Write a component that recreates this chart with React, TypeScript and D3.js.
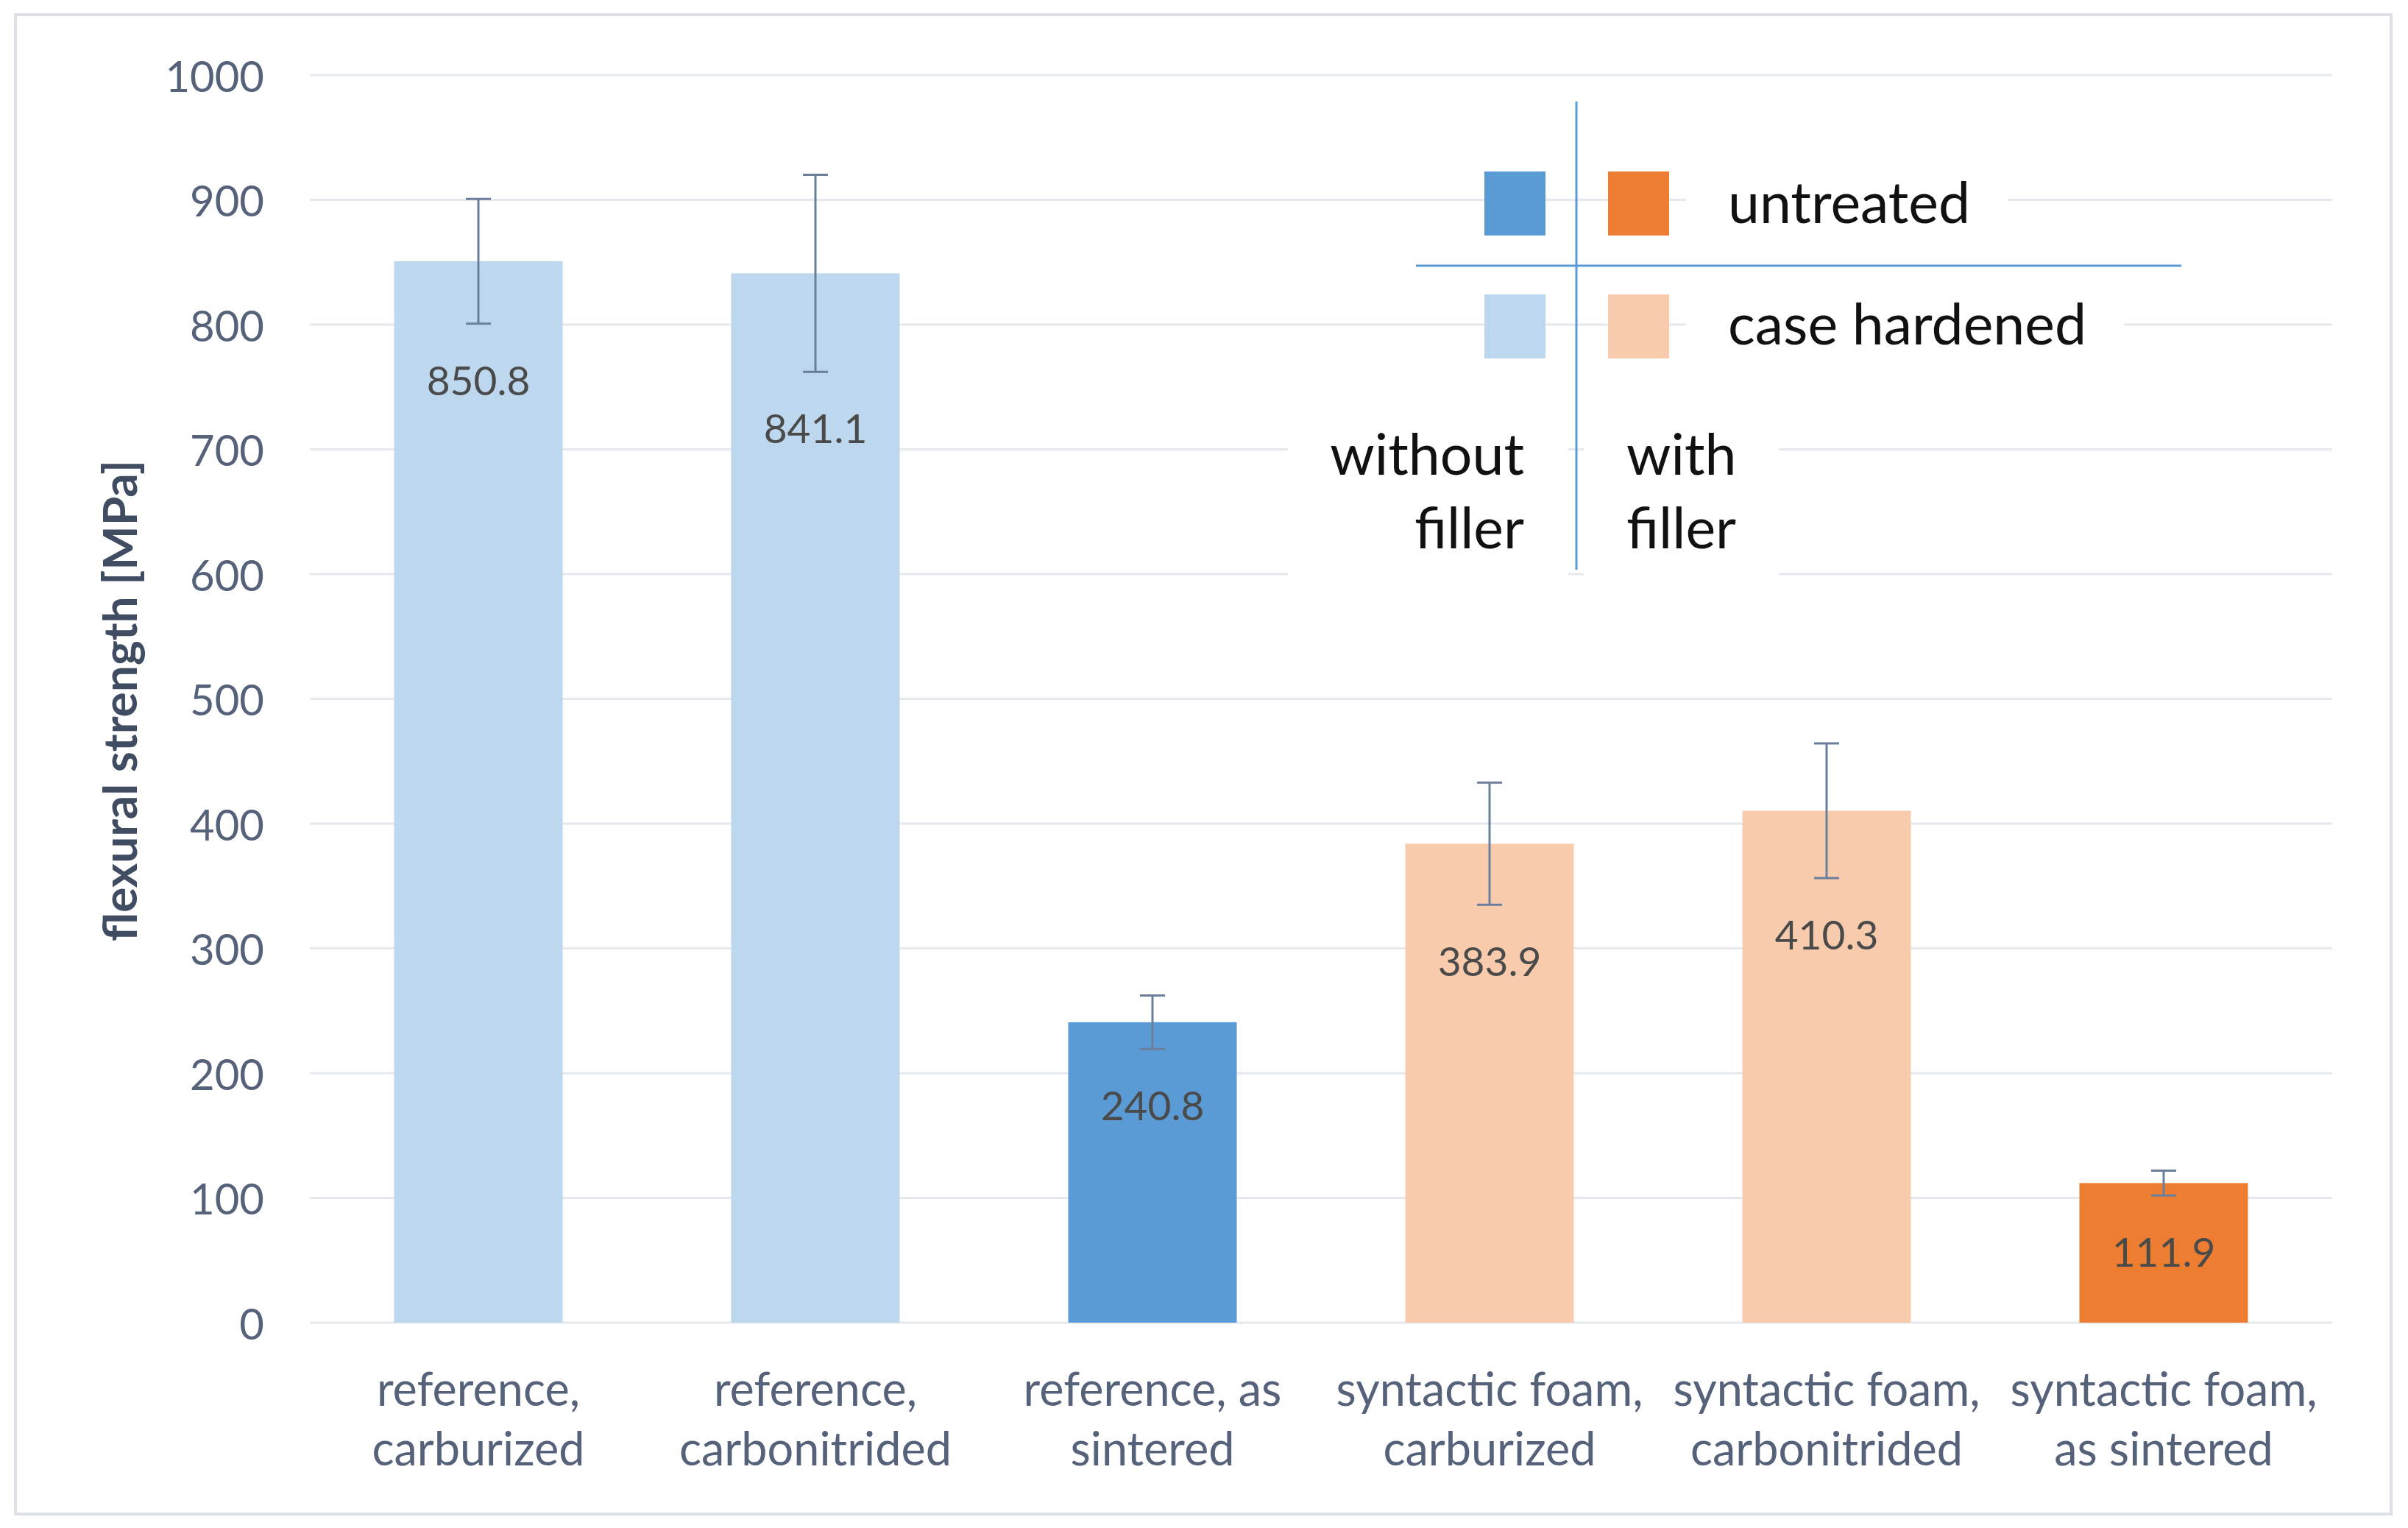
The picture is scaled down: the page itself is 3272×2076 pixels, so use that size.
import * as d3 from "d3";

const categories: string[][] = [
  ["reference,", "carburized"],
  ["reference,", "carbonitrided"],
  ["reference, as", "sintered"],
  ["syntactic foam,", "carburized"],
  ["syntactic foam,", "carbonitrided"],
  ["syntactic foam,", "as sintered"],
];
const strength = [850.8, 841.1, 240.8, 383.9, 410.3, 111.9];
const deviation = [50, 79, 21.5, 49, 54, 10];
const filler = ["without", "without", "without", "with", "with", "with"];
const treatment = ["case hardened", "case hardened", "untreated", "case hardened", "case hardened", "untreated"];
const yTicks = [0, 100, 200, 300, 400, 500, 600, 700, 800, 900, 1000];

const COLORS: Record<string, string> = {
  "without|untreated": "#5b9bd5",
  "with|untreated": "#ed7d31",
  "without|case hardened": "#bdd7ee",
  "with|case hardened": "#f8cbad",
};

const W = 3272;
const H = 2076;
const FONT = "Lato, 'Open Sans', sans-serif";
const AXIS_TEXT = "#56627a";

export default function App() {
  const x = d3.scaleBand<number>().domain(d3.range(strength.length)).range([421, 3169]).paddingInner(0.5).paddingOuter(0.25);
  const y = d3.scaleLinear().domain([0, 1000]).range([1797, 102]);
  const bw = x.bandwidth();
  const cap = 17;

  return (
    <svg width={W} height={H} style={{ position: "absolute", left: 0, top: 0, background: "#fff" }} fontFamily={FONT}>
      <rect x={21} y={20} width={3228} height={2037} fill="#fff" stroke="#dde1e7" strokeWidth={4} />

      {/* gridlines */}
      {yTicks.map((t) => (
        <line key={t} x1={421} x2={3169} y1={y(t)} y2={y(t)} stroke="#e5e8ed" strokeWidth={3} />
      ))}
      {yTicks.map((t) => (
        <text key={"l" + t} x={359} y={y(t)} textAnchor="end" dominantBaseline="central" fontSize={58} fill={AXIS_TEXT}>
          {t}
        </text>
      ))}

      <text
        transform={`translate(161,952) rotate(-90)`}
        textAnchor="middle"
        dominantBaseline="central"
        fontSize={64}
        fontWeight={700}
        fill="#3f4c61"
      >
        flexural strength [MPa]
      </text>

      {/* bars */}
      {strength.map((v, i) => (
        <rect
          key={"b" + i}
          x={x(i)!}
          y={y(v)}
          width={bw}
          height={y(0) - y(v)}
          fill={COLORS[filler[i] + "|" + treatment[i]]}
        />
      ))}

      {/* error bars */}
      {strength.map((v, i) => {
        const cx = x(i)! + bw / 2;
        const top = y(v + deviation[i]);
        const bot = y(v - deviation[i]);
        return (
          <g key={"e" + i} stroke="#6b7f9c" strokeWidth={3}>
            <line x1={cx} x2={cx} y1={top} y2={bot} />
            <line x1={cx - cap} x2={cx + cap} y1={top} y2={top} />
            <line x1={cx - cap} x2={cx + cap} y1={bot} y2={bot} />
          </g>
        );
      })}

      {/* value labels */}
      {strength.map((v, i) => (
        <text
          key={"v" + i}
          x={x(i)! + bw / 2}
          y={y(v - deviation[i]) + 76}
          textAnchor="middle"
          dominantBaseline="central"
          fontSize={55}
          fill="#4a4a4a"
        >
          {v.toFixed(1)}
        </text>
      ))}

      {/* category labels */}
      {categories.map((lines, i) => (
        <text key={"c" + i} x={x(i)! + bw / 2} textAnchor="middle" fontSize={63} fill={AXIS_TEXT}>
          {lines.map((ln, j) => (
            <tspan key={j} x={x(i)! + bw / 2} y={1910 + j * 81}>
              {ln}
            </tspan>
          ))}
        </text>
      ))}

      {/* legend */}
      <g>
        <rect x={2291} y={215} width={437} height={115} fill="#fff" />
        <rect x={2291} y={385} width={595} height={115} fill="#fff" />
        <rect x={1750} y={560} width={381} height={235} fill="#fff" />
        <rect x={2152} y={560} width={265} height={235} fill="#fff" />

        <rect x={2017} y={233} width={83} height={87} fill={COLORS["without|untreated"]} />
        <rect x={2185} y={233} width={83} height={87} fill={COLORS["with|untreated"]} />
        <rect x={2017} y={400} width={83} height={87} fill={COLORS["without|case hardened"]} />
        <rect x={2185} y={400} width={83} height={87} fill={COLORS["with|case hardened"]} />

        <line x1={2142} x2={2142} y1={138} y2={774} stroke="#5b9bd5" strokeWidth={3} />
        <line x1={1924} x2={2964} y1={361} y2={361} stroke="#5b9bd5" strokeWidth={3} />

        <text x={2348} y={303} fontSize={77} fill="#111">untreated</text>
        <text x={2348} y={468} fontSize={77} fill="#111">case hardened</text>
        <text x={2071} y={645} fontSize={77} fill="#111" textAnchor="end">without</text>
        <text x={2071} y={745} fontSize={77} fill="#111" textAnchor="end">filler</text>
        <text x={2210} y={645} fontSize={77} fill="#111">with</text>
        <text x={2210} y={745} fontSize={77} fill="#111">filler</text>
      </g>
    </svg>
  );
}
